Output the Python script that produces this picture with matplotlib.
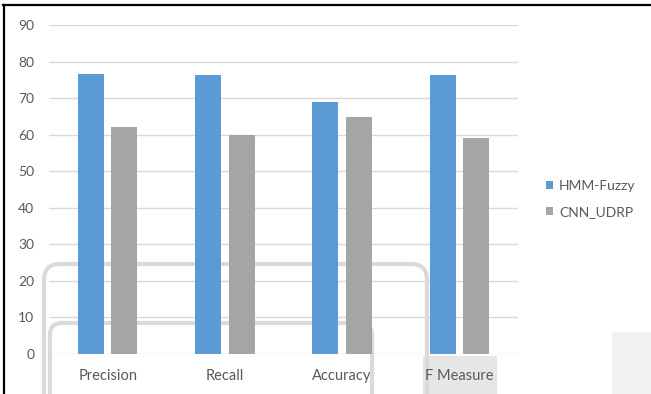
import numpy as np
import matplotlib.pyplot as plt
from matplotlib.patches import FancyBboxPatch, Rectangle
from matplotlib.lines import Line2D
from matplotlib.transforms import IdentityTransform

plt.rcParams['font.family'] = ['Lato', 'DejaVu Sans']

categories = ["Precision", "Recall", "Accuracy", "F Measure"]
hmm_fuzzy = [76.7, 76.3, 68.9, 76.3]
cnn_udrp = [62.0, 59.8, 64.9, 59.0]
y_ticks = list(range(0, 100, 10))

W, H = 651, 394
TXT = "#595959"

fig = plt.figure(figsize=(W / 100, H / 100), dpi=100)


def box(x0, y0, x1, y1):
    # pixel box (top-left origin) -> figure fraction rect
    return [x0 / W, 1 - y1 / H, (x1 - x0) / W, (y1 - y0) / H]


ax = fig.add_axes(box(49, 25, 518, 354))

x = np.arange(len(categories))
w = 0.222
ax.bar(x - 0.142, hmm_fuzzy, w, color="#5B9BD5", label="HMM-Fuzzy", zorder=3)
ax.bar(x + 0.142, cnn_udrp, w, color="#A5A5A5", label="CNN_UDRP", zorder=3)

ax.set_xlim(-0.5, 3.5)
ax.set_ylim(0, 90)
ax.set_yticks(y_ticks)
ax.set_xticks(x, categories)
ax.grid(axis='y', color='#d9d9d9', linewidth=1.0)
ax.set_axisbelow(False)
for s in ax.spines.values():
    s.set_visible(False)
ax.tick_params(length=0, colors=TXT)
ax.tick_params(axis='y', pad=10.5, labelsize=10)
ax.tick_params(axis='x', pad=11, labelsize=10.5)

# faint rounded outlines left behind in the background
ident = IdentityTransform()
for (x0, ytop, x1, r) in [(44, 264, 427, 16), (50, 323, 372, 12)]:
    ax.add_patch(FancyBboxPatch((x0, -40), x1 - x0, (H - ytop) + 40,
                                boxstyle=f"round,pad=0,rounding_size={r}",
                                transform=ident, fill=False, edgecolor='#dadada',
                                lw=3, clip_on=False, zorder=1.5))
ax.add_patch(Rectangle((423, 0), 74, H - 356, transform=ident, facecolor='#e6e6e6',
                       edgecolor='none', clip_on=False, zorder=0.5))
ax.add_patch(Rectangle((612, 0), 39, H - 332, transform=ident, facecolor='#f1f1f1',
                       edgecolor='none', clip_on=False, zorder=0.5))

ax.legend(loc='center left', bbox_to_anchor=(546 / W, 1 - 199 / H),
          bbox_transform=fig.transFigure, frameon=False,
          handlelength=0.5, handleheight=0.5, handletextpad=0.45,
          labelspacing=1.0, borderpad=0, borderaxespad=0,
          fontsize=10, labelcolor=TXT)

# black frame on top and left
fig.add_artist(Line2D([3 / W, 1], [1 - 5 / H, 1 - 5 / H], color='black', lw=1.6,
                      transform=fig.transFigure))
fig.add_artist(Line2D([4 / W, 4 / W], [0, 1 - 5 / H], color='black', lw=1.6,
                      transform=fig.transFigure))

fig.savefig("out.png", dpi=100)
